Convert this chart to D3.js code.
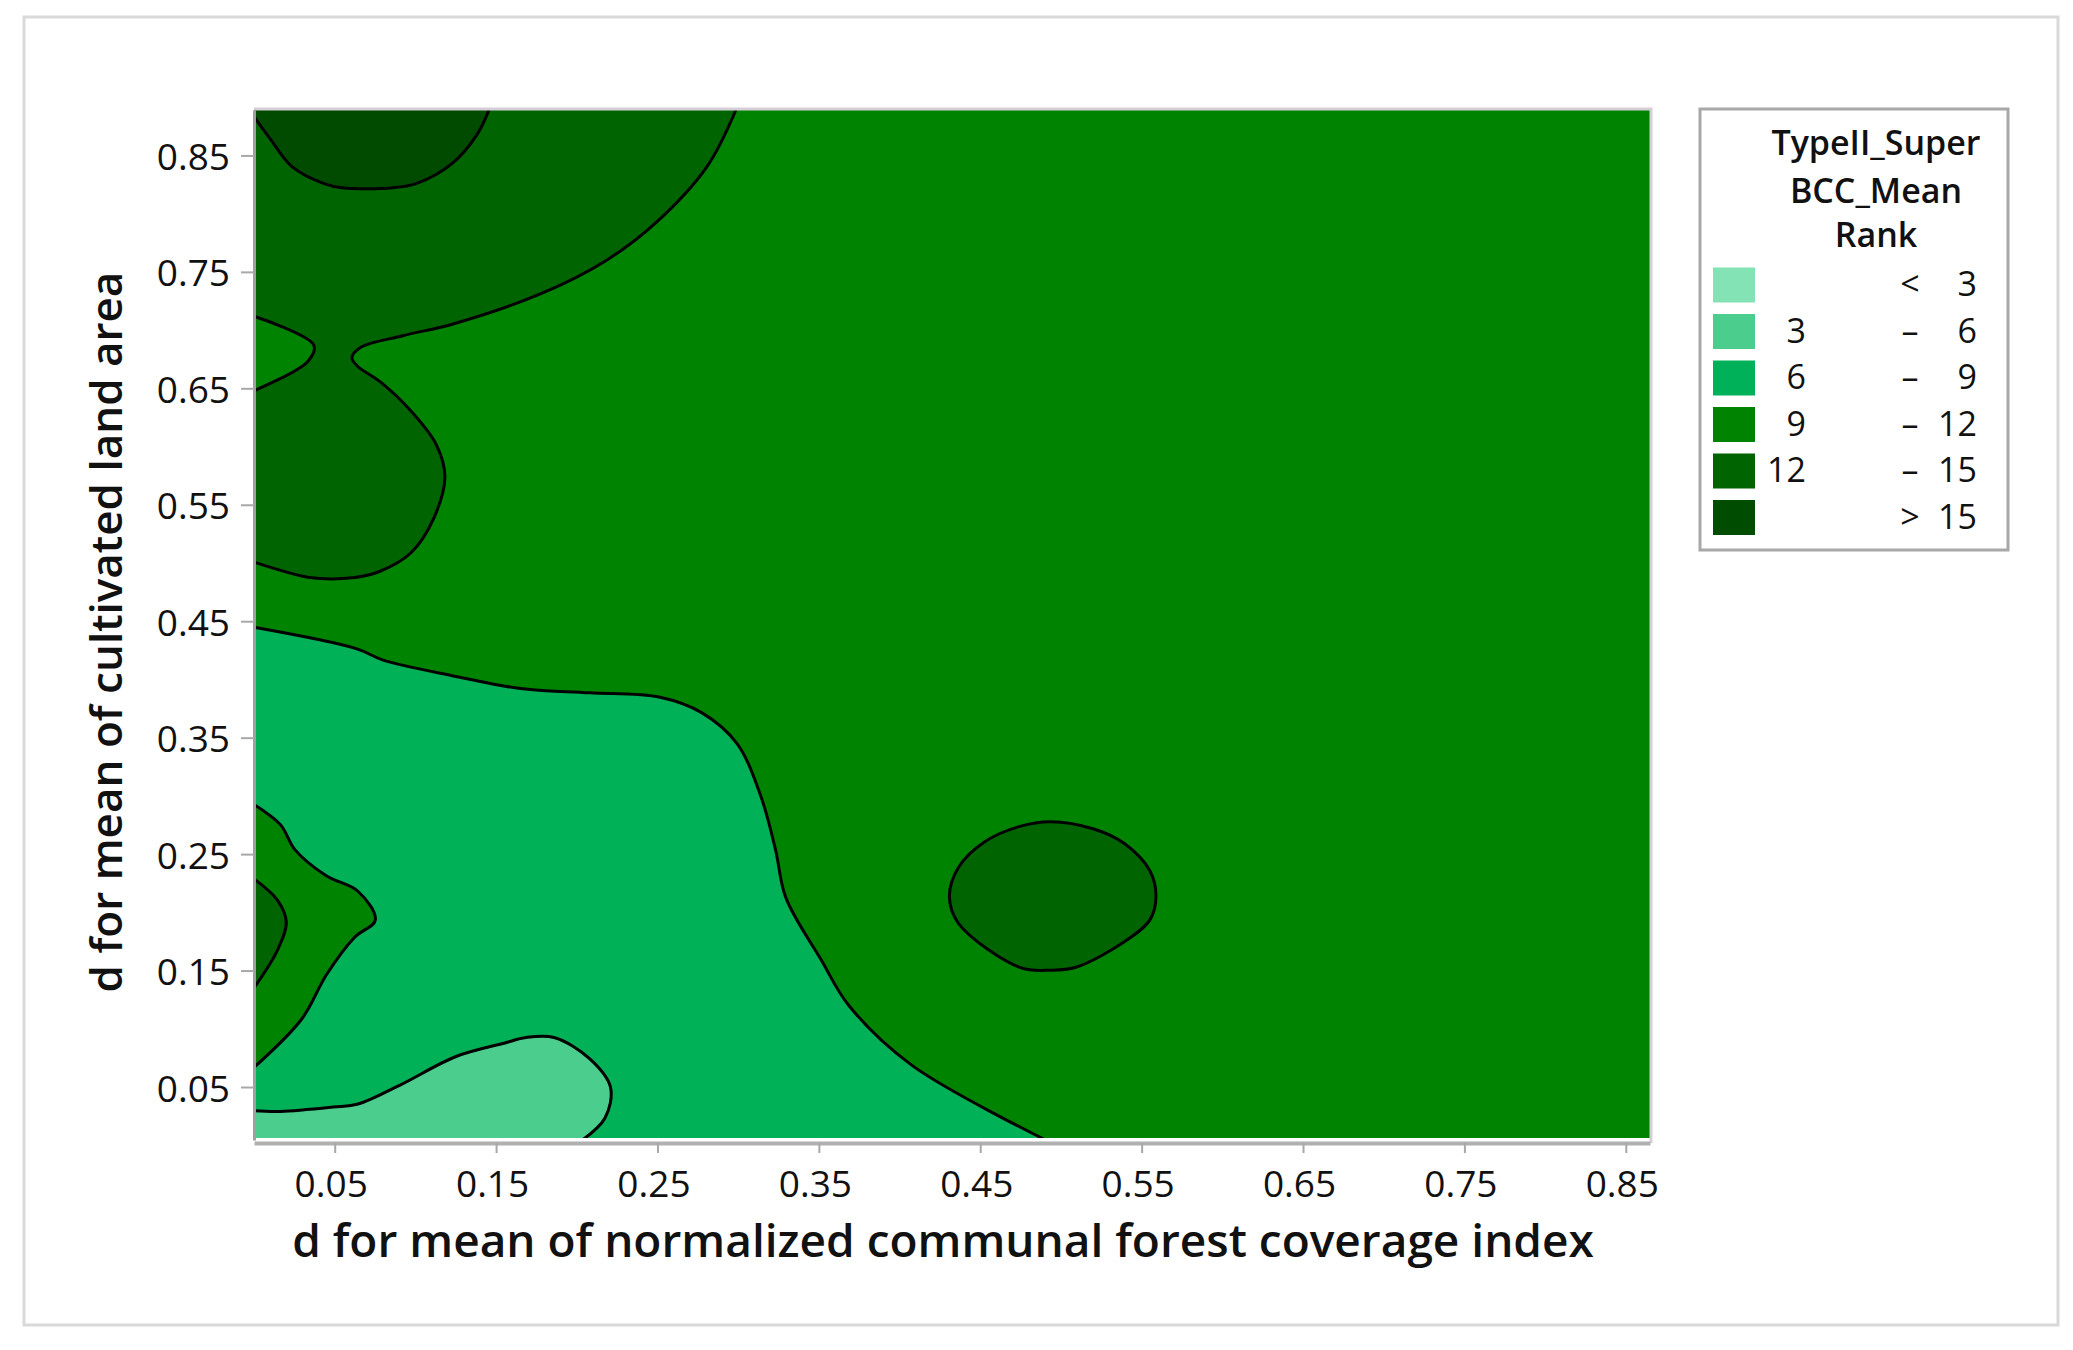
<!DOCTYPE html>
<html>
<head>
<meta charset="utf-8">
<script src="https://cdn.jsdelivr.net/npm/d3@7/dist/d3.min.js"></script>
<style>
  body { margin: 0; background: #fff; }
  text { font-family: "Open Sans", sans-serif; fill: #111; }
</style>
</head>
<body>
<script>
// ---- values ----
const xTicks = [0.05, 0.15, 0.25, 0.35, 0.45, 0.55, 0.65, 0.75, 0.85];
const yTicks = [0.05, 0.15, 0.25, 0.35, 0.45, 0.55, 0.65, 0.75, 0.85];
const xDomain = [0, 0.865];
const yDomain = [0.0045, 0.889];

const xTitle = 'd for mean of normalized communal forest coverage index';
const yTitle = 'd for mean of cultivated land area';
const legendTitle = ['TypeII_Super', 'BCC_Mean', 'Rank'];

const legendLow = ['', '3', '6', '9', '12', ''];
const legendMid = ['<', '–', '–', '–', '–', '>'];
const legendHigh = ['3', '6', '9', '12', '15', '15'];
const levelColors = ['#84e3b4', '#4bce8d', '#00b159', '#008300', '#006500', '#004c00'];
const backgroundLevel = 3;

// contour lines, [x, y] in data units
const peakTop = [[0, .8833], [.0099, .8644], [.0235, .8404], [.0434, .8258], [.0545, .8223], [.0861, .8223], [.1004, .8258], [.1227, .8430], [.1382, .8679], [.1456, .889]];
const ridgeTop = [[.2986, .889], [.2807, .8404], [.2491, .7923], [.2175, .7592], [.1778, .7313], [.1239, .7055], [.0923, .6952], [.0657, .6849], [.0607, .6763], [.0638, .6694], [.0781, .6557], [.0954, .6333], [.1128, .6020], [.1183, .5741], [.1115, .5388], [.0973, .5088], [.0781, .4929], [.0626, .4876], [.0341, .4876], [0, .5007]];
const notchLeft = [[0, .7119], [.0371, .6870], [.0332, .6729], [0, .6479]];
const lowerArea = [[0, .4448], [.0638, .4263], [.0796, .4168], [.1252, .4025], [.1555, .3942], [.1729, .3911], [.2079, .3885], [.2516, .3847], [.2776, .3713], [.2993, .3449], [.3141, .2995], [.3231, .2541], [.3296, .2124], [.3513, .1595], [.3687, .1198], [.4077, .0686], [.4905, .0045]];
const leftBlob = [[0, .2927], [.0165, .2751], [.0252, .2541], [.0448, .2314], [.0644, .2181], [.0752, .1935], [.0622, .1784], [.0448, .1462], [.0296, .1084], [0, .0668]];
const leftCore = [[0, .2287], [.0144, .2107], [.0200, .1918], [.0144, .1671], [0, .1351]];
const bottomBlob = [[0, .0296], [.0165, .0290], [.0491, .0328], [.0644, .0354], [.0905, .0517], [.1252, .0762], [.1555, .0878], [.1685, .0925], [.1859, .0925], [.2079, .0743], [.2209, .0497], [.2175, .0234], [.2035, .0045]];
const centerBlob = [[.4935, .2778], [.5204, .2716], [.5393, .2591], [.5551, .2357], [.5589, .2137], [.5551, .1935], [.5393, .1747], [.5093, .1528], [.4935, .1503], [.4745, .1528], [.4366, .1904], [.4309, .2137], [.4366, .2387], [.4528, .2606], [.4745, .2738]];

// painted in this order, corners close a contour against the plot edge
const regions = [
  { pts: lowerArea, level: 2, corners: [[0, .0045]] },
  { pts: leftBlob, level: 3, corners: [] },
  { pts: leftCore, level: 4, corners: [] },
  { pts: bottomBlob, level: 1, corners: [[0, .0045]] },
  { pts: ridgeTop, level: 4, corners: [[0, .889]] },
  { pts: notchLeft, level: 3, corners: [] },
  { pts: peakTop, level: 5, corners: [[0, .889]] },
  { pts: centerBlob, level: 4, closed: true }
];

// ---- layout ----
const width = 2073;
const height = 1350;
const plotLeft = 254;
const plotRight = 1650;
const plotTop = 110;
const plotBottom = 1140;
const fillBottom = 1138;
const axisY = 1143;

const x = d3.scaleLinear().domain(xDomain).range([plotLeft, plotRight]);
const y = d3.scaleLinear().domain(yDomain).range([plotBottom, plotTop]);

const svg = d3.select('body').append('svg')
  .attr('width', width)
  .attr('height', height);

svg.append('defs').append('clipPath')
  .attr('id', 'plot-clip')
  .append('rect')
  .attr('x', plotLeft)
  .attr('y', plotTop)
  .attr('width', plotRight - plotLeft)
  .attr('height', fillBottom - plotTop);

// soft edges, the reference is an enlarged screenshot
const blur = svg.select('defs').append('filter').attr('id', 'soft');
blur.append('feGaussianBlur').attr('stdDeviation', 0.7);

//outer frame
svg.append('rect')
  .attr('x', 24)
  .attr('y', 17)
  .attr('width', 2034)
  .attr('height', 1308)
  .attr('fill', 'none')
  .attr('stroke', '#d9d9d9')
  .attr('stroke-width', 3);

//contour fills and lines
const openLine = d3.line().x(d => x(d[0])).y(d => y(d[1])).curve(d3.curveCatmullRom.alpha(0.5));
const closedLine = d3.line().x(d => x(d[0])).y(d => y(d[1])).curve(d3.curveCatmullRomClosed.alpha(0.5));

const plot = svg.append('g')
  .attr('clip-path', 'url(#plot-clip)')
  .append('g')
  .attr('filter', 'url(#soft)');

plot.append('rect')
  .attr('x', plotLeft)
  .attr('y', plotTop)
  .attr('width', plotRight - plotLeft)
  .attr('height', plotBottom - plotTop)
  .attr('fill', levelColors[backgroundLevel]);

regions.forEach(r => {
  const linePath = r.closed ? closedLine(r.pts) : openLine(r.pts);
  const tail = r.closed ? '' : r.corners.map(c => 'L' + x(c[0]) + ',' + y(c[1])).join('') + 'Z';
  plot.append('path')
    .attr('d', linePath + tail)
    .attr('fill', levelColors[r.level]);
  plot.append('path')
    .attr('d', linePath)
    .attr('fill', 'none')
    .attr('stroke', '#000')
    .attr('stroke-width', 3);
});

//top and right edges are lighter than the axes
svg.append('path')
  .attr('d', 'M' + plotLeft + ',' + (plotTop - 1) + 'H' + (plotRight + 1) + 'V' + axisY)
  .attr('fill', 'none')
  .attr('stroke', '#d6ced6')
  .attr('stroke-width', 3);

//axes
const xAxis = d3.axisBottom(x).tickValues(xTicks).tickFormat(d3.format('.2f')).tickSizeInner(10).tickSizeOuter(0).tickPadding(18);
const yAxis = d3.axisLeft(y).tickValues(yTicks).tickFormat(d3.format('.2f')).tickSizeInner(13).tickSizeOuter(0).tickPadding(11);

const gx = svg.append('g').attr('transform', 'translate(0,' + axisY + ')').call(xAxis);
const gy = svg.append('g').attr('transform', 'translate(' + plotLeft + ',0)').call(yAxis);

gx.select('.domain').attr('stroke', '#b0b0b0').attr('stroke-width', 4);
gy.select('.domain').attr('stroke', '#a0a0a0').attr('stroke-width', 3);
gx.selectAll('.tick text').attr('dx', -4);
gy.selectAll('.tick text').attr('dy', '0.38em');

[gx, gy].forEach(g => {
  g.selectAll('.tick line').attr('stroke', '#a8a8a8').attr('stroke-width', 2);
  g.selectAll('.tick text')
    .attr('font-size', 37)
    .attr('font-weight', 500)
    .style('font-family', '"Open Sans", sans-serif')
    .attr('fill', '#111');
});

//axis titles
svg.append('text')
  .text(xTitle)
  .attr('x', 943)
  .attr('y', 1257)
  .attr('text-anchor', 'middle')
  .attr('font-size', 46)
  .attr('font-weight', 600);

svg.append('text')
  .text(yTitle)
  .attr('transform', 'translate(122,632) rotate(-90)')
  .attr('text-anchor', 'middle')
  .attr('font-size', 44)
  .attr('font-weight', 600);

//legend
svg.append('rect')
  .attr('x', 1700)
  .attr('y', 109)
  .attr('width', 308)
  .attr('height', 441)
  .attr('fill', '#fff')
  .attr('stroke', '#a8a8a8')
  .attr('stroke-width', 3);

const titleBaselines = [155, 203, 247];
svg.selectAll('.legend-title')
  .data(legendTitle)
  .enter()
  .append('text')
  .attr('class', 'legend-title')
  .text(d => d)
  .attr('x', 1876)
  .attr('y', (d, i) => titleBaselines[i])
  .attr('text-anchor', 'middle')
  .attr('font-size', 34)
  .attr('font-weight', 600);

const legendRow = d3.scalePoint().domain(d3.range(levelColors.length)).range([285, 517.5]);

svg.selectAll('.swatch')
  .data(levelColors)
  .enter()
  .append('rect')
  .attr('class', 'swatch')
  .attr('x', 1713)
  .attr('y', (d, i) => legendRow(i) - 17.5)
  .attr('width', 42)
  .attr('height', 35)
  .attr('fill', d => d);

function legendColumn(values, xPos, anchor) {
  svg.append('g').selectAll('text')
    .data(values)
    .enter()
    .append('text')
    .text(d => d)
    .attr('x', xPos)
    .attr('y', (d, i) => legendRow(i) + 11)
    .attr('text-anchor', anchor)
    .attr('font-size', 34)
    .attr('font-weight', 500);
}
legendColumn(legendLow, 1806, 'end');
legendColumn(legendMid, 1910, 'middle');
legendColumn(legendHigh, 1977, 'end');
</script>
</body>
</html>
